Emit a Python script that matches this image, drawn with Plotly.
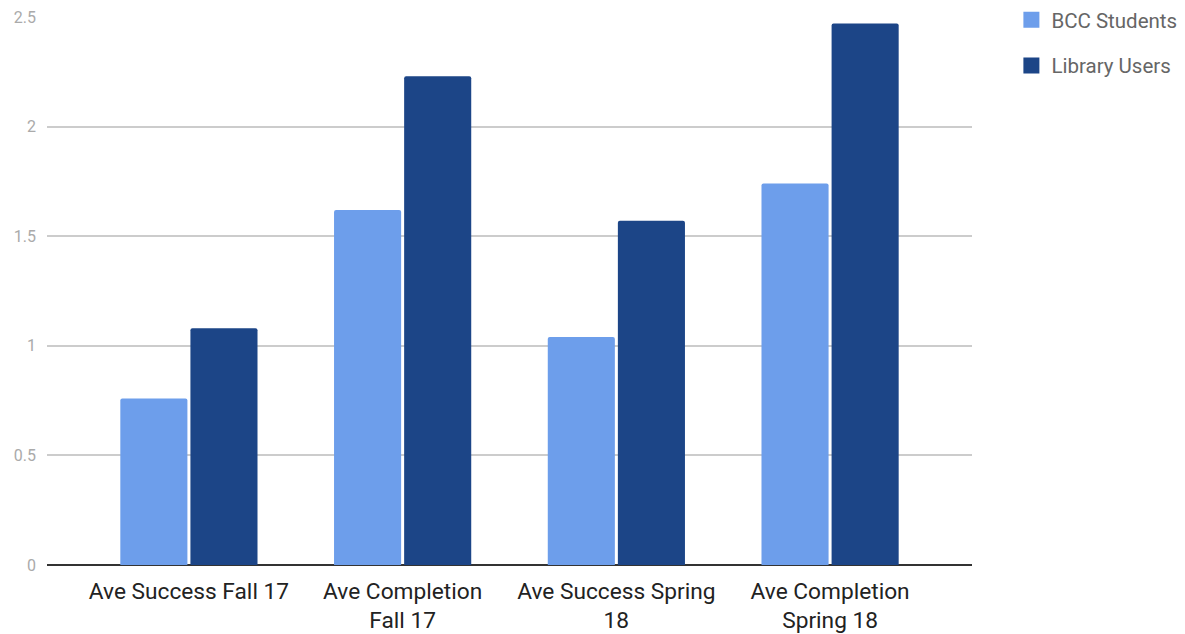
import plotly.graph_objects as go

categories = ["Ave Success Fall 17", "Ave Completion<br>Fall 17", "Ave Success Spring<br>18", "Ave Completion<br>Spring 18"]
bcc_students = [0.76, 1.62, 1.04, 1.74]
library_users = [1.08, 2.23, 1.57, 2.47]
y_ticks = [0, 0.5, 1, 1.5, 2, 2.5]
y_tick_labels = ["0", "0.5", "1", "1.5", "2", "2.5"]

c_bcc = "#6d9eeb"
c_lib = "#1c4587"

fig = go.Figure()
fig.add_trace(go.Bar(x=categories, y=bcc_students, name="BCC Students",
                     marker=dict(color=c_bcc, line=dict(width=0), cornerradius=2),
                     showlegend=False))
fig.add_trace(go.Bar(x=categories, y=library_users, name="Library Users",
                     marker=dict(color=c_lib, line=dict(width=0), cornerradius=2),
                     showlegend=False))
# legend entries with larger square swatches
fig.add_trace(go.Scatter(x=[None], y=[None], mode="markers", name="BCC Students",
                         legendgroup="a",
                         marker=dict(symbol="square", size=20, color=c_bcc)))
fig.add_trace(go.Scatter(x=[None], y=[None], mode="markers", name="Library Users",
                         legendgroup="b",
                         marker=dict(symbol="square", size=20, color=c_lib)))

fig.update_layout(
    width=1185, height=634,
    margin=dict(l=47, r=213, t=17, b=69, autoexpand=False),
    paper_bgcolor="white", plot_bgcolor="white",
    font=dict(family="Roboto", color="#222222"),
    barmode="group", bargap=0.344, bargroupgap=0.043,
    showlegend=True,
    legend=dict(xref="container", yref="container", x=0.8535, y=1.006,
                xanchor="left", yanchor="top",
                font=dict(size=20.5, color="#666666"), itemwidth=30,
                itemsizing="trace", traceorder="grouped", tracegroupgap=16),
    xaxis=dict(tickfont=dict(size=22.7, color="#222222"), showgrid=False,
               showline=False, ticks="", range=[-0.664, 3.664],
               ticklabelstandoff=10, automargin=False),
    yaxis=dict(range=[0, 2.5], tickvals=y_ticks, ticktext=y_tick_labels,
               tickfont=dict(size=16, color="#aaaaaa"), showgrid=True,
               gridcolor="#cccccc", gridwidth=1.5, zeroline=True,
               zerolinecolor="#333333", zerolinewidth=2, ticks="",
               ticklabelstandoff=10, automargin=False),
)

fig.write_html("out.html")
